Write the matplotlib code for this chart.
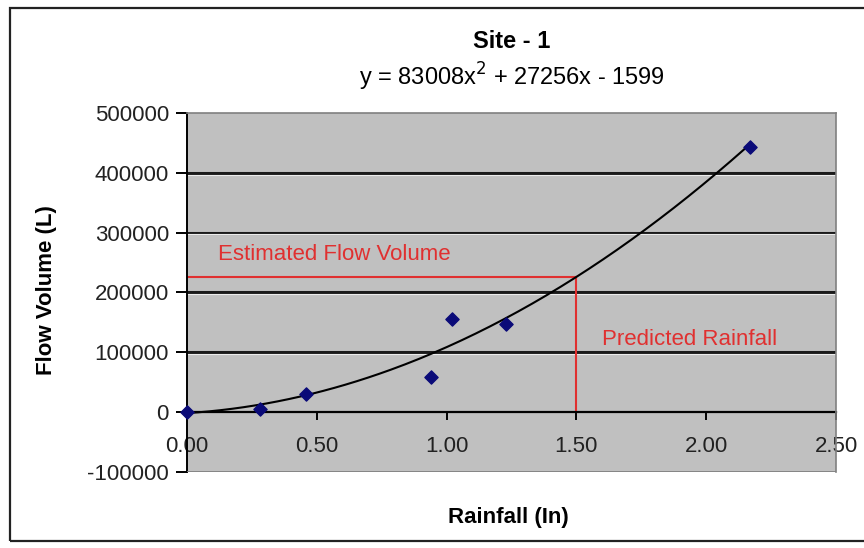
import numpy as np
import matplotlib
matplotlib.use("Agg")
import matplotlib.pyplot as plt
from matplotlib.patches import Rectangle

plt.rcParams["font.family"] = ["Liberation Sans", "DejaVu Sans"]

# ---------------- Data ----------------
rainfall = [0.00, 0.28, 0.46, 0.94, 1.02, 1.23, 2.17]
flow_volume = [0, 5000, 30000, 58000, 156000, 148000, 443000]

# trendline y = a x^2 + b x + c (as printed on the chart)
trend_coef = [83008, 27256, -1599]
predicted_rainfall = 1.50

x_ticks = [0.0, 0.5, 1.0, 1.5, 2.0, 2.5]
x_ticklabels = ["0.00", "0.50", "1.00", "1.50", "2.00", "2.50"]
y_ticks = [-100000, 0, 100000, 200000, 300000, 400000, 500000]
y_ticklabels = ["-100000", "0", "100000", "200000", "300000", "400000", "500000"]

# ---------------- Figure ----------------
fig = plt.figure(figsize=(8.64, 5.48), dpi=100)
fig.patch.set_facecolor("white")

# outer chart frame
fig.patches.append(Rectangle((0.012, 0.013), 1.0, 0.972, transform=fig.transFigure,
                             fill=False, edgecolor="#222222", lw=1.6))

ax = fig.add_axes([0.2164, 0.1387, 0.7512, 0.6551])
ax.set_facecolor("#C0C0C0")
ax.set_xlim(0, 2.5)
ax.set_ylim(-100000, 500000)

# horizontal gridlines (excel style)
for yv in y_ticks[2:-1]:
    ax.axhline(yv, color="#1a1a1a", lw=2.2, zorder=1)
    ax.axhline(yv - 2800, color="#ececec", lw=0.8, zorder=1)

# trendline
poly = np.poly1d(trend_coef)
xs = np.linspace(min(rainfall), max(rainfall), 200)
ax.plot(xs, poly(xs), color="black", lw=1.5, zorder=3)

# estimation guide lines
est_flow = poly(predicted_rainfall)
red = "#e03030"
ax.plot([0, predicted_rainfall], [est_flow, est_flow], color=red, lw=1.5, zorder=2)
ax.plot([predicted_rainfall, predicted_rainfall], [0, est_flow], color=red, lw=1.5, zorder=2)
ax.text(0.12, 263000, "Estimated Flow Volume", color=red, fontsize=16,
        va="center", ha="left")
ax.text(1.60, 121000, "Predicted Rainfall", color=red, fontsize=16,
        va="center", ha="left")

# data points
ax.scatter(rainfall, flow_volume, marker="D", s=45, color="#0a0a78", zorder=4, clip_on=False)

# spines
for side in ["top", "right"]:
    ax.spines[side].set_color("#808080")
    ax.spines[side].set_linewidth(1.2)
ax.spines["left"].set_color("black")
ax.spines["left"].set_linewidth(1.4)
ax.spines["bottom"].set_position(("data", 0))
ax.spines["bottom"].set_color("black")
ax.spines["bottom"].set_linewidth(1.6)
ax.spines["bottom"].set_zorder(2)

# the lower gray frame of the plot area
ax.axhline(-100000, color="#808080", lw=2.0, zorder=5)

ax.set_xticks(x_ticks)
ax.set_xticklabels(x_ticklabels)
ax.set_yticks(y_ticks)
ax.set_yticklabels(y_ticklabels)
ax.tick_params(axis="x", direction="out", length=6, width=1.4, pad=11,
               labelsize=16, colors="black")
ax.tick_params(axis="y", direction="out", length=8, width=1.4, pad=5,
               labelsize=16, colors="black")
for lbl in ax.get_xticklabels() + ax.get_yticklabels():
    lbl.set_color("#222222")

# titles and axis labels
cx = 0.5 * (187 + 836) / 864
fig.text(cx, 1 - 42 / 548, "Site - 1", ha="center", va="center",
         fontsize=17, fontweight="bold")
fig.text(cx, 1 - 77 / 548, r"y = 83008x$^2$ + 27256x - 1599",
         ha="center", va="center", fontsize=17)
fig.text(47 / 864, 1 - 290 / 548, "Flow Volume (L)", ha="center", va="center",
         rotation=90, fontsize=16, fontweight="bold")
fig.text(508 / 864, 1 - 518 / 548, "Rainfall (In)", ha="center", va="center",
         fontsize=16, fontweight="bold")

fig.savefig("out.png", dpi=100)
